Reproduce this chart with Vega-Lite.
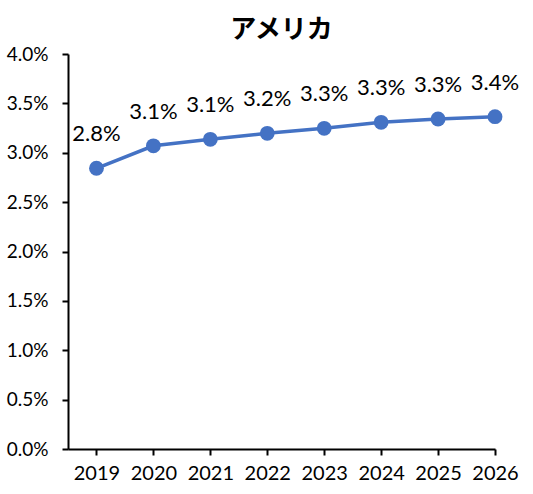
{
  "$schema": "https://vega.github.io/schema/vega-lite/v6.json",
  "width": 427,
  "height": 395,
  "autosize": {"type": "none"},
  "padding": {"left": 68, "top": 54, "right": 38, "bottom": 45},
  "background": "white",
  "title": {"text": "アメリカ", "font": "Noto Sans CJK JP", "fontSize": 26, "fontWeight": "bold", "color": "#000000", "anchor": "middle", "offset": 2},
  "config": {"view": {"stroke": null}},
  "data": {"values": [
    {"year": 2019, "v": 0.02843, "label": "2.8%"},
    {"year": 2020, "v": 0.0307, "label": "3.1%"},
    {"year": 2021, "v": 0.03136, "label": "3.1%"},
    {"year": 2022, "v": 0.03197, "label": "3.2%"},
    {"year": 2023, "v": 0.03247, "label": "3.3%"},
    {"year": 2024, "v": 0.03308, "label": "3.3%"},
    {"year": 2025, "v": 0.03342, "label": "3.3%"},
    {"year": 2026, "v": 0.03365, "label": "3.4%"}
  ]},
  "encoding": {
    "x": {"field": "year", "type": "quantitative", "scale": {"domain": [2018.5, 2026], "nice": false, "zero": false},
      "axis": {"title": null, "values": [2019, 2020, 2021, 2022, 2023, 2024, 2025, 2026], "format": "d", "grid": false, "domainColor": "#000000", "domainWidth": 2, "tickColor": "#000000", "tickWidth": 2, "tickSize": 6, "labelFont": "Lato", "labelFontSize": 20, "labelColor": "#000000", "labelPadding": 8, "labelFlush": false}},
    "y": {"field": "v", "type": "quantitative", "scale": {"domain": [0, 0.04], "nice": false},
      "axis": {"title": null, "values": [0, 0.005, 0.01, 0.015, 0.02, 0.025, 0.03, 0.035, 0.04], "format": ".1%", "grid": false, "domainColor": "#000000", "domainWidth": 2, "tickColor": "#000000", "tickWidth": 2, "tickSize": 6, "labelFont": "Lato", "labelFontSize": 19, "labelColor": "#000000", "labelPadding": 14}}
  },
  "layer": [
    {"mark": {"type": "line", "color": "#4472C4", "strokeWidth": 3.5}},
    {"mark": {"type": "point", "filled": true, "color": "#4472C4", "opacity": 1, "size": 220}},
    {"mark": {"type": "text", "font": "Lato", "fontSize": 22, "color": "#000000", "dy": -34, "baseline": "middle"}, "encoding": {"text": {"field": "label"}}}
  ]
}
